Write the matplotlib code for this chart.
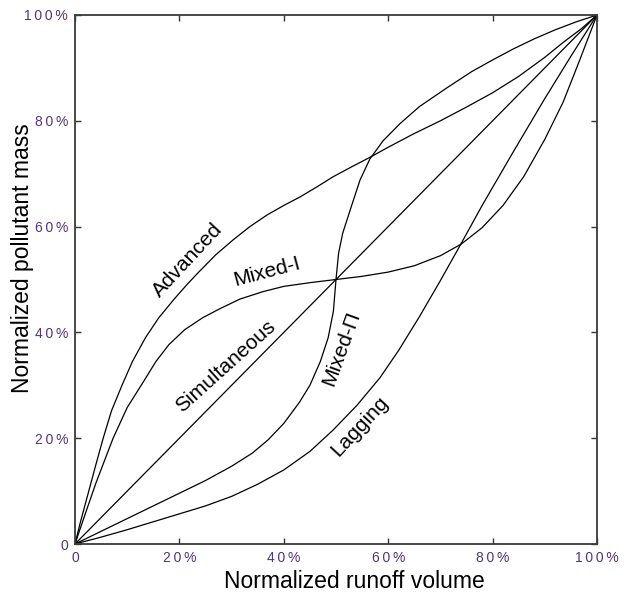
import matplotlib
matplotlib.use("Agg")
import matplotlib.pyplot as plt

# ---- data (fractions of total) ----
simultaneous_x = [0.0, 1.0]
simultaneous_y = [0.0, 1.0]

advanced_x = [0.0, 0.01, 0.025, 0.04, 0.054, 0.07, 0.09, 0.11, 0.135, 0.16, 0.19, 0.215, 0.239,
              0.27, 0.303, 0.335, 0.368, 0.40, 0.431, 0.465, 0.494, 0.53, 0.565, 0.60, 0.648,
              0.70, 0.75, 0.80, 0.85, 0.90, 0.935, 0.97, 1.0]
advanced_y = [0.0, 0.04, 0.095, 0.15, 0.20, 0.252, 0.30, 0.345, 0.39, 0.427, 0.463, 0.491, 0.516,
              0.547, 0.575, 0.60, 0.622, 0.64, 0.656, 0.676, 0.694, 0.713, 0.731, 0.75, 0.775,
              0.80, 0.826, 0.853, 0.884, 0.92, 0.948, 0.974, 1.0]

lagging_x = [0.0, 0.05, 0.10, 0.15, 0.20, 0.25, 0.30, 0.35, 0.40, 0.45, 0.494, 0.54, 0.584,
             0.62, 0.66, 0.70, 0.733, 0.78, 0.84, 0.90, 0.95, 1.0]
lagging_y = [0.0, 0.013, 0.027, 0.042, 0.057, 0.072, 0.09, 0.113, 0.14, 0.175, 0.215, 0.262, 0.314,
             0.366, 0.43, 0.498, 0.556, 0.64, 0.742, 0.842, 0.922, 1.0]

mixed1_x = [0.0, 0.02, 0.04, 0.073, 0.10, 0.13, 0.155, 0.18, 0.21, 0.245, 0.278, 0.316, 0.36,
            0.40, 0.45, 0.50, 0.55, 0.60, 0.65, 0.70, 0.74, 0.78, 0.82, 0.86, 0.90, 0.935, 0.965, 1.0]
mixed1_y = [0.0, 0.058, 0.115, 0.20, 0.258, 0.305, 0.345, 0.377, 0.405, 0.428, 0.445, 0.463, 0.477,
            0.487, 0.494, 0.50, 0.506, 0.514, 0.526, 0.545, 0.567, 0.598, 0.64, 0.695, 0.765, 0.835, 0.91, 1.0]

mixed2_x = [0.0, 0.05, 0.10, 0.15, 0.20, 0.25, 0.30, 0.34, 0.37, 0.40, 0.43, 0.45, 0.47, 0.485,
            0.495, 0.50, 0.505, 0.513, 0.53, 0.546, 0.565, 0.59, 0.623, 0.66, 0.712, 0.76, 0.80,
            0.84, 0.88, 0.92, 0.96, 1.0]
mixed2_y = [0.0, 0.024, 0.048, 0.072, 0.096, 0.12, 0.147, 0.172, 0.197, 0.228, 0.268, 0.30, 0.345,
            0.39, 0.44, 0.50, 0.55, 0.588, 0.64, 0.688, 0.728, 0.762, 0.795, 0.827, 0.862, 0.893,
            0.915, 0.936, 0.955, 0.972, 0.987, 1.0]

tick_values = [0.0, 0.2, 0.4, 0.6, 0.8, 1.0]
tick_labels = ["0", "2\u20090\u2009%", "4\u20090\u2009%", "6\u20090\u2009%", "8\u20090\u2009%", "1\u20090\u20090\u2009%"]

label_names = ["Advanced", "Mixed-I", "Simultaneous", "Mixed-\u03a0", "Lagging"]

plt.rcParams['font.family'] = ['Liberation Sans', 'DejaVu Sans']

fig = plt.figure(figsize=(6.31, 5.95), dpi=100)
ax = fig.add_axes([75/631, 51/595, 522/631, 529/595])

lw = 0.9
for xs, ys in [(simultaneous_x, simultaneous_y), (advanced_x, advanced_y), (lagging_x, lagging_y),
               (mixed1_x, mixed1_y), (mixed2_x, mixed2_y)]:
    ax.plot(xs, ys, color='black', lw=lw, solid_capstyle='round', solid_joinstyle='round')

ax.set_xlim(0, 1)
ax.set_ylim(0, 1)
ax.set_xticks(tick_values)
ax.set_yticks(tick_values)
ax.set_xticklabels(tick_labels)
ax.set_yticklabels(tick_labels)
tick_color = '#553377'
ax.tick_params(direction='in', length=4, width=1, top=True, right=True,
               labelsize=10, labelcolor=tick_color, color='#333333', pad=5)
for s in ax.spines.values():
    s.set_linewidth(1.3)
    s.set_color('#3a3a3a')

ax.set_xlabel("Normalized runoff volume", fontsize=16.5)
ax.set_ylabel("Normalized pollutant mass", fontsize=16.5)
ax.xaxis.set_label_coords(0.536, -0.05)
ax.yaxis.set_label_coords(-0.078, 0.54)

# curve labels (positions in data coords)
lab_pos = [(0.216, 0.537, 47), (0.368, 0.514, 15), (0.289, 0.335, 42), (0.511, 0.37, 70), (0.546, 0.222, 47)]
for name, (lx, ly, rot) in zip(label_names, lab_pos):
    ax.text(lx, ly, name, fontsize=15, rotation=rot, ha='center', va='center', rotation_mode='anchor')

fig.savefig("out.png", dpi=100)
